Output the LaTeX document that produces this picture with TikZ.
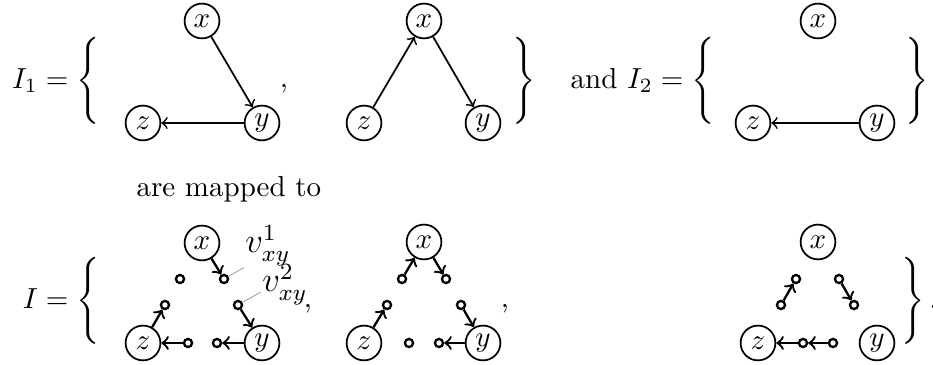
\documentclass[tikz,border=0pt]{standalone}
\newcommand\mybrstrut{\vcenter{\hbox{\rule{0pt}{32pt}}}}
\begin{document}
\begin{tikzpicture}[x=0.3448pt,y=-0.3448pt,
  vert/.style={circle,draw,semithick,minimum size=12pt,inner sep=0pt},
  dot/.style={circle,draw,thick,minimum size=2.8pt,inner sep=0pt},
  tedge/.style={->,semithick},
  sedge/.style={->,thick},
  pinline/.style={gray,very thin},
  lab/.style={inner sep=0.3pt,font=\large},
  txt/.style={inner sep=0pt}]
\useasboundingbox (0,0) rectangle (933,365);

% ---------- top row ----------
\node[txt,anchor=east] (lhs1) at (104,81) {$I_1 = \left\{\mybrstrut\right.$};
\node[vert] (tx1) at (202,21) {$x$};
\node[vert] (tz1) at (143,123) {$z$};
\node[vert] (ty1) at (262,123) {$y$};
\draw[tedge] (tx1) -- (ty1);
\draw[tedge] (ty1) -- (tz1);
\node[txt,anchor=base] (cm1) at (284,88) {,};

\node[vert] (tx2) at (424,21) {$x$};
\node[vert] (tz2) at (364,123) {$z$};
\node[vert] (ty2) at (483,123) {$y$};
\draw[tedge] (tz2) -- (tx2);
\draw[tedge] (tx2) -- (ty2);
\node[txt,anchor=west] (rb1) at (508,81) {$\left.\mybrstrut\right\}$};

\node[txt,anchor=east] (lhs2) at (719,81) {and $I_2 = \left\{\mybrstrut\right.$};
\node[vert] (tx3) at (818,21) {$x$};
\node[vert] (tz3) at (753,123) {$z$};
\node[vert] (ty3) at (877,123) {$y$};
\draw[tedge] (ty3) -- (tz3);
\node[txt,anchor=west] (rb2) at (901,81) {$\left.\mybrstrut\right\}$};

% ---------- middle text ----------
\node[txt,anchor=base west] (map) at (136,197) {are mapped to};

% ---------- bottom row ----------
\node[txt,anchor=east] (lhs3) at (104,301) {$I = \left\{\mybrstrut\right.$};

% graph 1
\node[vert] (bx1) at (202,243) {$x$};
\node[vert] (bz1) at (143,343) {$z$};
\node[vert] (by1) at (262,343) {$y$};
\node[dot] (a1) at (180,279) {};
\node[dot] (b1) at (224,279) {};
\node[dot] (c1) at (165,305) {};
\node[dot] (d1) at (238,305) {};
\node[dot] (e1) at (188,343) {};
\node[dot] (f1) at (217,343) {};
\draw[sedge] (bx1) -- (b1);
\draw[sedge] (d1) -- (by1);
\draw[sedge] (e1) -- (bz1);
\draw[sedge] (by1) -- (f1);
\draw[sedge] (bz1) -- (c1);
\node[lab,anchor=base west] (lab1) at (244,253) {$v_{xy}^{1}$};
\node[lab,anchor=base west] (lab2) at (261,292) {$v_{xy}^{2}$};
\draw[pinline] (b1) -- (lab1.south west);
\draw[pinline] (d1) -- (lab2.base west);
\node[txt,anchor=base] (cm2) at (308,308) {,};

% graph 2
\node[vert] (bx2) at (424,242) {$x$};
\node[vert] (bz2) at (364,343) {$z$};
\node[vert] (by2) at (483,343) {$y$};
\node[dot] (a2) at (402,279) {};
\node[dot] (b2) at (446,279) {};
\node[dot] (c2) at (387,305) {};
\node[dot] (d2) at (461,305) {};
\node[dot] (e2) at (409,343) {};
\node[dot] (f2) at (439,343) {};
\draw[sedge] (a2) -- (bx2);
\draw[sedge] (bx2) -- (b2);
\draw[sedge] (d2) -- (by2);
\draw[sedge] (bz2) -- (c2);
\draw[sedge] (by2) -- (f2);
\node[txt,anchor=base] (cm3) at (505,308) {,};

% graph 3
\node[vert] (bx3) at (818,242) {$x$};
\node[vert] (bz3) at (758,343) {$z$};
\node[vert] (by3) at (877,343) {$y$};
\node[dot] (a3) at (796,279) {};
\node[dot] (b3) at (839,279) {};
\node[dot] (c3) at (781,305) {};
\node[dot] (d3) at (854,305) {};
\node[dot] (e3) at (803,343) {};
\node[dot] (f3) at (833,343) {};
\draw[sedge] (c3) -- (a3);
\draw[sedge] (b3) -- (d3);
\draw[sedge] (e3) -- (bz3);
\draw[sedge] (f3) -- (e3);
\node[txt,anchor=west] (rb3) at (897,301) {$\left.\mybrstrut\right\}.$};
\end{tikzpicture}
\end{document}
